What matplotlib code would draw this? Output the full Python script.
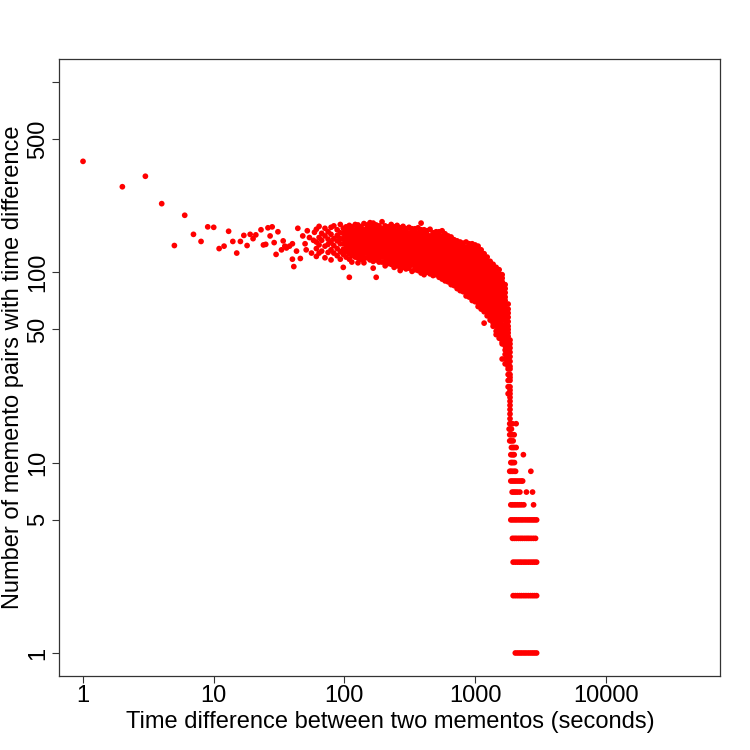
import matplotlib
matplotlib.use("Agg")
import matplotlib.pyplot as plt

plt.rcParams['font.family'] = ['Liberation Sans', 'DejaVu Sans']

# ---- data ----
# individual points for small time differences (seconds, count)
sparse_x = [1, 2, 3, 4, 5, 6, 7, 8, 9, 10, 11, 12, 13, 14, 15, 16, 17, 18, 19, 20,
            21, 23, 24, 25, 26, 27, 28, 29, 30, 31, 33, 34, 35, 36, 38, 40, 40, 41,
            43, 44, 46, 48, 50, 51, 52, 54, 56, 58, 59]
sparse_y = [382, 281, 319, 229, 138, 199, 158, 145, 173, 172, 133, 137, 164, 145, 126,
            145, 156, 138, 158, 150, 157, 167, 139, 140, 171, 155, 173, 143, 124, 163,
            131, 146, 137, 134, 137, 117, 141, 107, 129, 170, 118, 155, 141, 131, 165,
            152, 126, 147, 162]

# dense band: time difference (seconds) and the counts seen at that time difference
band_x = [61, 64, 67, 71, 75, 79, 83, 88, 93, 98, 103, 109, 114, 121, 127, 134, 141,
          149, 157, 166, 175, 184, 194, 205, 216, 228, 240, 253, 267, 281, 296, 312,
          329, 347, 366, 386, 407, 429, 452, 477, 503, 530, 559, 589, 621, 655, 691,
          728, 768, 809, 853, 900, 949, 1000, 1054, 1112, 1172, 1236, 1303, 1373,
          1448, 1527, 1610, 1697, 1789, 1849]
band_counts = [
    [168, 144, 133, 121],
    [174, 152, 139, 126],
    [160, 147, 129],
    [170, 155, 137, 119],
    [163, 149, 140, 127],
    [172, 158, 144, 131, 116],
    [175, 150, 138, 126],
    [167, 156, 146, 133, 122],
    [178, 161, 150, 141, 128, 117],
    [170, 160, 150, 141, 132, 124, 106],
    [173, 163, 155, 148, 141, 134, 128, 120],
    [176, 167, 159, 151, 144, 137, 131, 125, 117, 94],
    [173, 165, 157, 150, 143, 136, 129, 122, 113],
    [178, 167, 159, 152, 145, 138, 131, 125, 120],
    [177, 169, 161, 153, 146, 139, 132, 126, 119, 112],
    [173, 165, 157, 150, 143, 136, 129, 123, 117],
    [180, 167, 159, 151, 144, 137, 131, 125, 118, 112],
    [177, 169, 161, 153, 146, 139, 132, 126, 119],
    [182, 171, 163, 155, 148, 141, 134, 128, 122, 116],
    [181, 173, 165, 157, 150, 143, 136, 130, 124, 118, 114, 105],
    [177, 169, 161, 153, 146, 139, 132, 126, 120, 116, 94],
    [175, 167, 159, 151, 144, 137, 131, 125, 119, 113],
    [184, 169, 161, 153, 146, 139, 132, 126, 120, 113],
    [175, 167, 159, 151, 144, 137, 131, 125, 119, 113, 108],
    [173, 165, 157, 150, 143, 136, 129, 123, 117, 111],
    [178, 167, 159, 151, 144, 137, 131, 125, 119, 113, 110],
    [173, 165, 157, 150, 143, 136, 129, 123, 117, 112, 106],
    [176, 165, 157, 150, 143, 136, 129, 123, 117, 112, 108],
    [171, 163, 155, 148, 141, 134, 128, 122, 116, 111, 106, 102],
    [174, 163, 155, 148, 141, 134, 128, 122, 116, 111, 106],
    [169, 161, 153, 146, 139, 132, 126, 120, 114, 109, 104],
    [172, 161, 153, 146, 139, 132, 126, 120, 114, 109, 105],
    [169, 161, 153, 146, 139, 132, 126, 120, 114, 109, 101],
    [169, 161, 153, 146, 139, 132, 126, 120, 114, 109, 104, 103],
    [171, 161, 153, 146, 139, 132, 126, 120, 114, 109, 104, 102],
    [181, 167, 159, 151, 144, 137, 131, 125, 119, 113, 108, 103, 99],
    [167, 159, 151, 144, 137, 131, 125, 119, 113, 108, 103, 100, 97],
    [165, 157, 150, 143, 136, 129, 123, 117, 112, 107, 102, 100],
    [168, 155, 148, 141, 134, 128, 122, 116, 111, 106, 101, 98],
    [161, 153, 146, 139, 132, 126, 120, 114, 109, 104, 100, 96],
    [163, 155, 148, 141, 134, 128, 122, 116, 111, 106, 101, 97],
    [163, 155, 148, 141, 134, 128, 122, 116, 111, 106, 101, 97, 94],
    [165, 155, 148, 141, 134, 128, 122, 116, 111, 106, 101, 97, 92],
    [159, 151, 144, 137, 131, 125, 119, 113, 108, 103, 98, 94, 90],
    [155, 148, 141, 134, 128, 122, 116, 111, 106, 101, 96, 92, 89],
    [153, 144, 137, 131, 125, 119, 113, 108, 103, 98, 94, 90, 86],
    [148, 141, 134, 128, 122, 116, 111, 106, 101, 96, 92, 88, 85],
    [146, 139, 132, 126, 120, 114, 109, 104, 99, 95, 91, 87, 82],
    [144, 137, 131, 125, 119, 113, 108, 103, 98, 94, 90, 86, 82, 80],
    [142, 135, 129, 123, 117, 112, 107, 102, 97, 93, 89, 85, 81, 79],
    [144, 135, 129, 123, 117, 112, 107, 102, 97, 93, 89, 85, 81, 78, 75],
    [141, 134, 128, 122, 116, 111, 106, 101, 96, 92, 88, 84, 80, 77, 74],
    [141, 134, 128, 122, 116, 111, 106, 101, 96, 92, 88, 84, 80, 77, 74, 71],
    [139, 132, 126, 120, 114, 109, 104, 99, 95, 91, 87, 83, 79, 76, 73, 70],
    [137, 131, 125, 119, 113, 108, 103, 98, 94, 90, 86, 82, 78, 75, 72, 69, 66],
    [131, 125, 119, 113, 108, 103, 98, 94, 90, 86, 82, 78, 75, 72, 69, 66, 64],
    [125, 119, 113, 108, 103, 98, 94, 90, 86, 82, 78, 75, 72, 69, 66, 64, 62, 54],
    [120, 115, 110, 105, 100, 96, 92, 88, 84, 80, 77, 74, 71, 68, 65, 62, 59],
    [114, 109, 104, 99, 95, 91, 87, 83, 79, 76, 73, 70, 67, 64, 61, 58, 56],
    [110, 105, 100, 96, 92, 88, 84, 80, 77, 74, 71, 68, 65, 62, 59, 56, 54, 52],
    [106, 101, 97, 93, 89, 85, 81, 78, 75, 72, 69, 66, 63, 60, 57, 54, 52, 49, 47],
    [103, 98, 94, 90, 86, 82, 78, 75, 72, 69, 66, 63, 60, 57, 54, 52, 50, 47, 45],
    [97, 93, 89, 85, 81, 77, 74, 71, 68, 65, 62, 59, 56, 53, 51, 49, 47, 45, 43, 42, 35],
    [86, 82, 78, 74, 71, 68, 65, 62, 59, 56, 53, 51, 49, 47, 45, 43, 41, 39, 37, 35, 33],
    [68, 64, 61, 58, 55, 52, 50, 48, 46, 44, 42, 40, 38, 36, 34, 32, 31, 29, 27, 25, 23],
    [44, 42, 40, 38, 36, 34, 32, 31, 29, 28, 27, 25, 24, 23, 22, 21, 20, 19, 18, 17],
]

# tail: small integer counts and the time differences (seconds) where they occur
tail_counts = [16, 15, 14, 13, 12, 11, 10, 9, 8, 7, 6, 5, 4, 3, 2, 1]
tail_x = [
    [1840, 1880, 1930, 2060],
    [1821, 1855, 1896],
    [1840, 1880, 1930, 1990],
    [1840, 1890, 1954],
    [1896, 1940, 1990, 2060],
    [1876, 1920, 1960, 1990, 2340],
    [1876, 1910, 1950, 2000],
    [1840, 1880, 1930, 1990, 2040, 2670],
    [1876, 1930, 1990, 2050, 2120, 2190, 2260, 2310],
    [1920, 1980, 2040, 2110, 2200, 2470, 2750],
    [1876, 1930, 1990, 2050, 2120, 2190, 2270, 2360, 2800],
    [1876, 1940, 2010, 2080, 2160, 2240, 2320, 2410, 2500, 2590, 2680, 2770, 2860, 2955],
    [1930, 2000, 2070, 2150, 2230, 2310, 2400, 2490, 2580, 2680, 2790, 2900],
    [1954, 2030, 2110, 2190, 2270, 2360, 2450, 2550, 2650, 2750, 2850, 2955],
    [1954, 2030, 2110, 2190, 2270, 2360, 2450, 2550, 2650, 2750, 2850, 2955],
    [2030, 2110, 2190, 2270, 2360, 2450, 2550, 2650, 2750, 2850, 2955],
]

x_ticks = [1, 10, 100, 1000, 10000]
x_tick_labels = ["1", "10", "100", "1000", "10000"]
y_ticks = [1, 5, 10, 50, 100, 500, 1000]
y_tick_labels = ["1", "5", "10", "50", "100", "500", ""]

# ---- assemble points ----
xs = list(sparse_x)
ys = list(sparse_y)
for bx, counts in zip(band_x, band_counts):
    for c in counts:
        xs.append(bx)
        ys.append(c)
for c, row in zip(tail_counts, tail_x):
    for tx in row:
        xs.append(tx)
        ys.append(c)

# ---- figure ----
W, H = 750, 750
fig = plt.figure(figsize=(7.5, 7.5), dpi=100)
ax = fig.add_axes([59 / W, 1 - 676 / H, (720 - 59) / W, (676 - 59) / H])
ax.set_xscale('log')
ax.set_yscale('log')
ax.scatter(xs, ys, s=17, c='#FF0000', edgecolors='none', zorder=3)

ax.set_xlim(0.655, 74750)
ax.set_ylim(0.757, 1317)

ax.minorticks_off()
ax.set_xticks(x_ticks)
ax.set_xticklabels(x_tick_labels)
ax.set_yticks(y_ticks)
ax.set_yticklabels(y_tick_labels, rotation=90, va='center')
ax.tick_params(axis='both', which='major', direction='out', length=5, width=0.8,
               color='#333333', labelsize=17, labelcolor='black')
ax.tick_params(axis='x', pad=1.5)
ax.tick_params(axis='y', pad=2)
for sp in ax.spines.values():
    sp.set_color('#333333')
    sp.set_linewidth(0.9)

fig.text(390 / W, 1 - 722 / H, "Time difference between two mementos (seconds)",
         ha='center', va='center', fontsize=17)
fig.text(13 / W, 1 - 367 / H, "Number of memento pairs with time difference",
         ha='center', va='center', rotation=90, fontsize=17)

fig.savefig('out.png', dpi=100, facecolor='white')
